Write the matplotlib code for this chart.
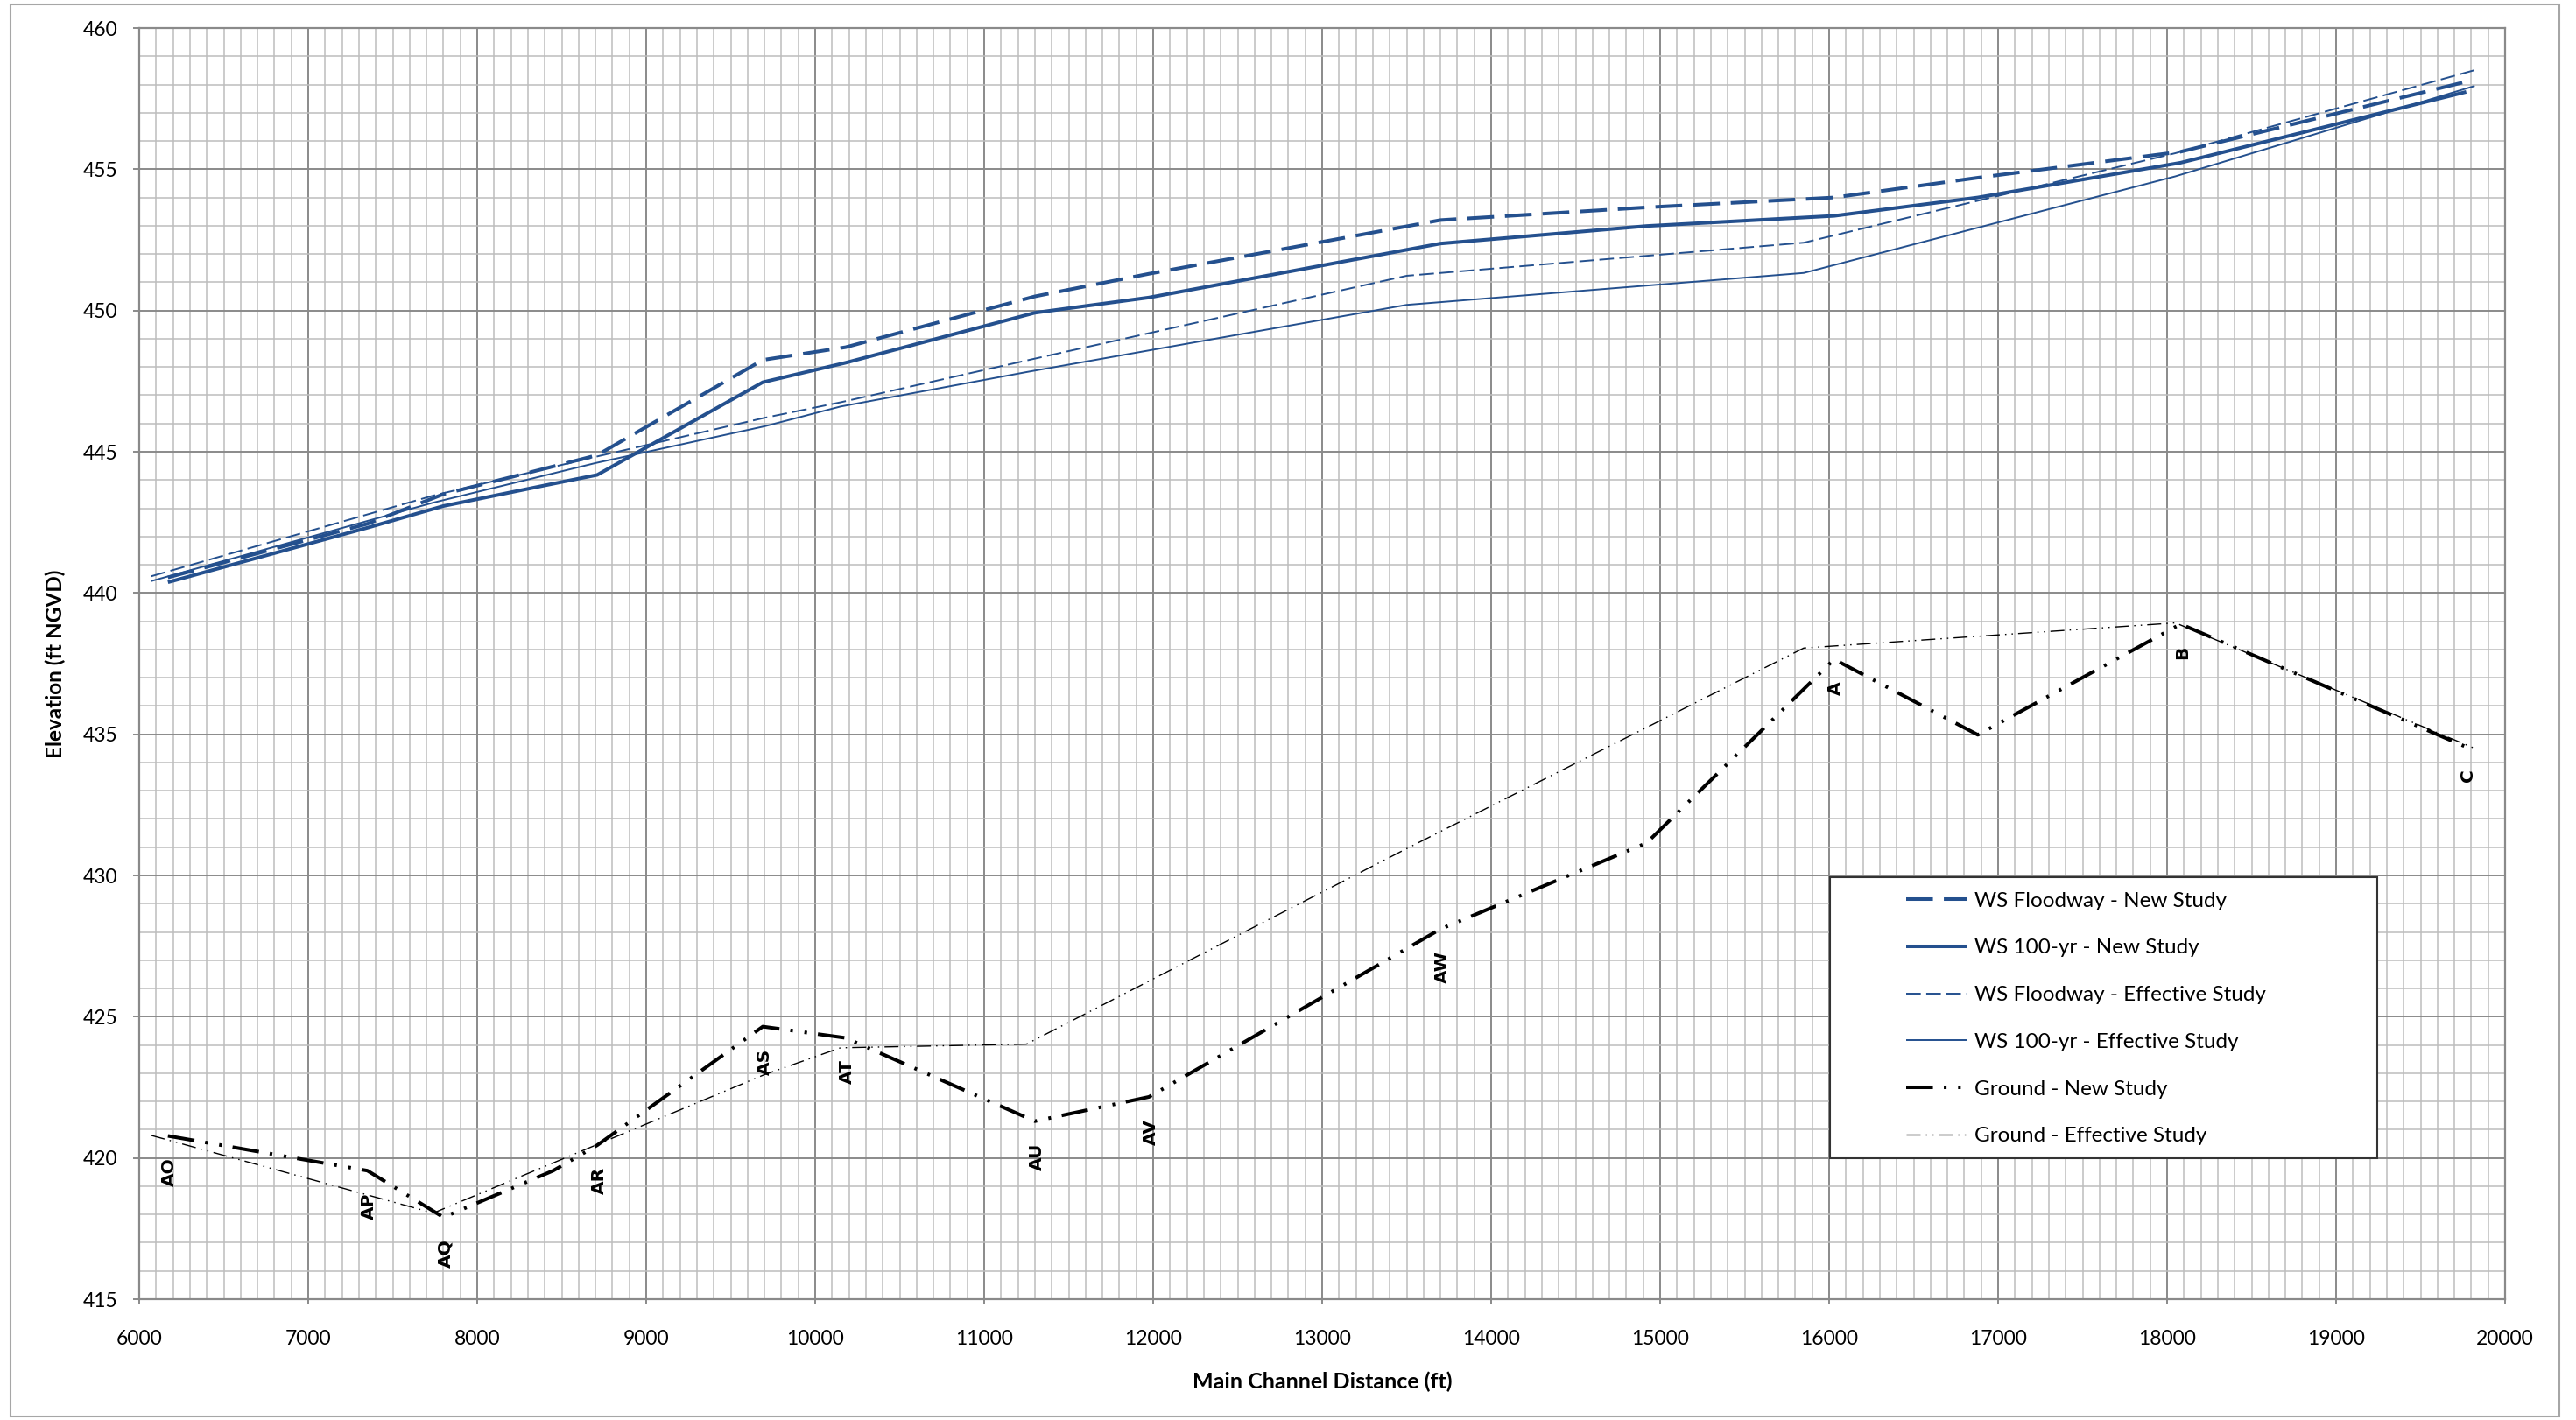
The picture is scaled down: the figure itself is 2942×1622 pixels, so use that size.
import matplotlib
matplotlib.use("Agg")
import matplotlib.pyplot as plt
from matplotlib.patches import Rectangle
from matplotlib.ticker import MultipleLocator

plt.rcParams['lines.scale_dashes'] = False

# ---------------- data ----------------
new_x = [6170, 7350, 7800, 8450, 8710, 9690, 10180, 11300, 11975, 13700, 14920, 16030, 16880, 18080, 19770]
fw_new = [440.55, 442.45, 443.5, 444.48, 444.88, 448.25, 448.7, 450.5, 451.3, 453.2, 453.65, 454.0, 454.7, 455.62, 458.1]
ws_new = [440.38, 442.31, 443.08, 443.87, 444.18, 447.46, 448.15, 449.92, 450.46, 452.37, 452.99, 453.35, 454.0, 455.23, 457.74]
ground_new = [420.78, 419.55, 417.9, 419.55, 420.45, 424.65, 424.25, 421.3, 422.16, 428.1, 431.15, 437.65, 434.98, 438.9, 434.55]
section_labels = ['AO', 'AP', 'AQ', '', 'AR', 'AS', 'AT', 'AU', 'AV', 'AW', '', 'A', '', 'B', 'C']

eff_x = [6070, 7740, 8700, 9700, 10150, 11250, 13500, 15850, 18050, 19820]
fw_eff = [440.59, 443.45, 444.82, 446.2, 446.75, 448.23, 451.23, 452.4, 455.57, 458.51]
ws_eff = [440.42, 443.2, 444.6, 445.9, 446.6, 447.82, 450.2, 451.33, 454.75, 457.95]
ground_eff = [420.8, 418.05, 420.45, 422.95, 423.9, 424.03, 430.95, 438.05, 438.94, 434.5]

series_names = ['WS Floodway - New Study', 'WS 100-yr - New Study',
                'WS Floodway - Effective Study', 'WS 100-yr - Effective Study',
                'Ground - New Study', 'Ground - Effective Study']

x_ticks = list(range(6000, 20001, 1000))
y_ticks = list(range(415, 461, 5))

# ---------------- styling ----------------
BLUE = '#24508E'
W, H = 2942, 1622
fig = plt.figure(figsize=(W / 100, H / 100), dpi=100)
fig.patch.set_facecolor('white')

# outer chart border
fig.patches.append(Rectangle((12 / W, 1 - 1618 / H), (2923 - 12) / W, (1618 - 5) / H,
                             transform=fig.transFigure, fill=False,
                             edgecolor='#A6A6A6', linewidth=1.5))

L, R, T, B = 159, 2861, 32, 1484
ax = fig.add_axes([L / W, 1 - B / H, (R - L) / W, (B - T) / H])

ax.set_xlim(6000, 20000)
ax.set_ylim(415, 460)
ax.xaxis.set_minor_locator(MultipleLocator(100))
ax.yaxis.set_minor_locator(MultipleLocator(1))
ax.set_xticks(x_ticks)
ax.set_yticks(y_ticks)
ax.set_axisbelow(True)
ax.grid(which='minor', color='#BDBDBD', linewidth=1.1)
ax.grid(which='major', color='#8A8A8A', linewidth=1.4)
for s in ax.spines.values():
    s.set_color('#8A8A8A')
    s.set_linewidth(1.6)

ax.tick_params(axis='x', which='major', direction='out', length=4.5, width=1.4,
               color='#8A8A8A', pad=21)
ax.tick_params(axis='y', which='major', direction='out', length=5, width=1.4,
               color='#8A8A8A', pad=13)
ax.tick_params(which='minor', length=0)
for lab in ax.get_xticklabels() + ax.get_yticklabels():
    lab.set_fontfamily('Lato')
    lab.set_fontsize(16.5)

ax.set_xlabel('Main Channel Distance (ft)', fontfamily='Lato', fontweight='bold', fontsize=18)
ax.set_ylabel('Elevation (ft NGVD)', fontfamily='Lato', fontweight='bold', fontsize=17.5)
ax.xaxis.label.set_va('center')
ax.xaxis.set_label_coords(0.5, (B - 1578) / (B - T))
ax.yaxis.label.set_va('center')
ax.yaxis.set_label_coords((63 - L) / (R - L), 0.5)

# ---------------- lines ----------------
l1, = ax.plot(new_x, fw_new, color=BLUE, lw=2.9, dashes=(22, 9), label=series_names[0], zorder=4)
l2, = ax.plot(new_x, ws_new, color=BLUE, lw=2.9, label=series_names[1], zorder=4)
l3, = ax.plot(eff_x, fw_eff, color=BLUE, lw=1.4, dashes=(12, 4.5), label=series_names[2], zorder=3)
l4, = ax.plot(eff_x, ws_eff, color=BLUE, lw=1.4, label=series_names[3], zorder=3)
l5, = ax.plot(new_x, ground_new, color='black', lw=2.9,
              dashes=(22, 9, 2.2, 9.5, 2.2, 9), label=series_names[4], zorder=4)
l6, = ax.plot(eff_x, ground_eff, color='black', lw=1.0,
              dashes=(11.5, 4.3, 1.1, 4.3, 1.1, 4.3), label=series_names[5], zorder=3)
for ln in (l1, l2, l3, l4, l5, l6):
    ln.set_dash_capstyle('butt')
    ln.set_solid_capstyle('butt')

# cross-section labels
for xv, yv, s in zip(new_x, ground_new, section_labels):
    if s:
        ax.annotate(s, (xv, yv), xytext=(1.5, -18), textcoords='offset points',
                    rotation=90, ha='center', va='top', fontsize=14.5,
                    fontweight='bold', family='DejaVu Sans', zorder=6)

# ---------------- legend ----------------
lx0 = (2090 - L) / (R - L)
lx1 = (2715 - L) / (R - L)
ly0 = (B - 1323) / (B - T)
ly1 = (B - 1002) / (B - T)
ax.add_patch(Rectangle((lx0, ly0), lx1 - lx0, ly1 - ly0, transform=ax.transAxes,
                       facecolor='white', edgecolor='#333333', linewidth=1.5, zorder=7))

LEG_FS = 17.5
fs_px = LEG_FS * 100 / 72.0
target_handle_x0 = 2177          # pixel from left
target_row_y = [1029, 1083, 1137, 1190, 1245, 1298]   # pixel from top
handle_len = 70 / fs_px
text_pad = 8 / fs_px


def make_legend(anchor, spacing):
    lg = ax.legend(handles=[l1, l2, l3, l4, l5, l6], loc='upper left',
                   bbox_to_anchor=anchor, frameon=False, borderpad=0, borderaxespad=0,
                   handlelength=handle_len, handletextpad=text_pad, labelspacing=spacing,
                   prop=dict(family='Lato', size=LEG_FS))
    lg.set_zorder(8)
    return lg


anchor = [(target_handle_x0 - L) / (R - L), (B - 1014) / (B - T)]
spacing = 1.2
leg = make_legend(tuple(anchor), spacing)
for _ in range(3):
    fig.canvas.draw()
    rend = fig.canvas.get_renderer()
    texts = leg.get_texts()
    ys = [(t.get_window_extent(rend).y0 + t.get_window_extent(rend).y1) / 2 for t in texts]
    pitch = (ys[0] - ys[-1]) / 5.0
    want_pitch = (target_row_y[-1] - target_row_y[0]) / 5.0
    spacing += (want_pitch - pitch) / fs_px
    hx0 = leg.legend_handles[0].get_window_extent(rend).x0
    dx = target_handle_x0 - hx0
    dy = (H - target_row_y[0]) - ys[0]
    anchor[0] += dx / (R - L)
    anchor[1] += dy / (B - T)
    leg.remove()
    leg = make_legend(tuple(anchor), spacing)

fig.savefig('out.png', dpi=100, facecolor='white')
